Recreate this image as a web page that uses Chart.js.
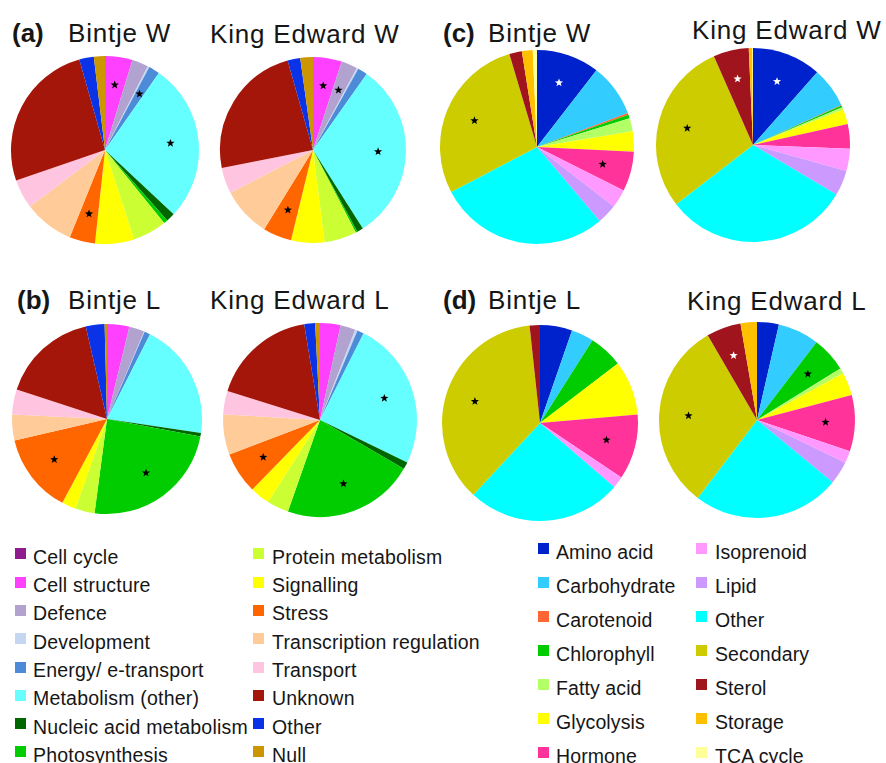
<!DOCTYPE html>
<html>
<head>
<meta charset="utf-8">
<script src="https://cdn.jsdelivr.net/npm/chart.js@4"></script>
<style>
  html, body { margin: 0; padding: 0; background: #fff; }
  body { width: 886px; height: 763px; position: relative; overflow: hidden;
         font-family: "Liberation Sans", Arial, Helvetica, sans-serif; color: #161616; }
  .title { position: absolute; font-size: 26px; line-height: 30px; white-space: nowrap; letter-spacing: 0.8px; }
  .panel { font-weight: bold; letter-spacing: 0; }
  canvas.pie { position: absolute; }
  .sw { position: absolute; width: 11px; height: 11px; }
  .lt { position: absolute; white-space: nowrap; line-height: 22px; }
</style>
</head>
<body>
<script>
// Functional categories of the gene sets in panels (a) and (b)
const funcCategories = [
  "Cell cycle", "Cell structure", "Defence", "Development", "Energy/ e-transport",
  "Metabolism (other)", "Nucleic acid metabolism", "Photosynthesis", "Protein metabolism",
  "Signalling", "Stress", "Transcription regulation", "Transport", "Unknown", "Other", "Null"
];
const funcColors = [
  "#8e1c8e", "#ff40ff", "#b2a2d0", "#c5d6f0", "#4d8bd9",
  "#66ffff", "#006600", "#00cc00", "#ccff33",
  "#ffff00", "#ff6600", "#ffcc99", "#ffc4e0", "#a5160a", "#0a32e6", "#cc9600"
];

// Metabolic pathway classes in panels (c) and (d)
const metCategories = [
  "Amino acid", "Carbohydrate", "Carotenoid", "Chlorophyll", "Fatty acid", "Glycolysis",
  "Hormone", "Isoprenoid", "Lipid", "Other", "Secondary", "Sterol", "Storage", "TCA cycle"
];
const metColors = [
  "#0022cc", "#33ccff", "#ff6633", "#00cc00", "#b3ff66", "#ffff00",
  "#ff3399", "#ff99ff", "#cc99ff", "#00ffff", "#cccc00", "#a0141e", "#ffc000", "#ffff99"
];

// Share of genes per category (%)
const funcBintjeW      = [0, 4.7, 2.8, 0.3, 1.9, 27.2, 1.5, 0.7, 5.8, 6.7, 4.4, 8.6, 5.0, 25.8, 2.5, 1.9];
const funcKingEdwardW  = [0, 5.0, 2.8, 0.3, 1.7, 31.2, 1.1, 0.3, 5.6, 5.8, 5.0, 8.6, 4.5, 23.7, 2.2, 2.2];
const funcBintjeL      = [0, 3.8, 2.6, 0.1, 1.0, 19.9, 0.6, 24.2, 3.3, 2.4, 13.6, 4.4, 4.3, 16.4, 3.2, 0.4];
const funcKingEdwardL  = [0, 3.4, 2.5, 0.4, 1.1, 24.7, 1.2, 21.9, 3.6, 3.3, 6.9, 6.7, 3.9, 17.5, 1.8, 0.8];

const metBintjeW       = [10.5, 8.8, 0.3, 0.6, 2.2, 3.4, 6.6, 3.1, 3.3, 28.5, 28.1, 2.1, 1.8, 0.7];
const metKingEdwardW   = [11.5, 6.7, 0.1, 0.3, 0.4, 2.5, 4.1, 3.7, 4.2, 31.0, 28.8, 5.9, 0.6, 0.1];
const metBintjeL       = [5.3, 3.7, 0, 5.6, 0, 9.0, 10.8, 1.9, 0, 25.6, 36.4, 1.7, 0, 0];
const metKingEdwardL   = [3.6, 6.8, 0, 5.8, 0.9, 3.8, 9.3, 2.0, 3.8, 24.4, 31.3, 5.7, 2.7, 0];

// Significantly enriched categories: [category, star colour]
const sigFuncBintjeW     = [["Cell structure", "#000"], ["Energy/ e-transport", "#000"], ["Metabolism (other)", "#000"], ["Stress", "#000"]];
const sigFuncKingEdwardW = [["Cell structure", "#000"], ["Defence", "#000"], ["Metabolism (other)", "#000"], ["Stress", "#000"]];
const sigFuncBintjeL     = [["Photosynthesis", "#000"], ["Stress", "#000"]];
const sigFuncKingEdwardL = [["Metabolism (other)", "#000"], ["Photosynthesis", "#000"], ["Stress", "#000"]];
const sigMetBintjeW      = [["Amino acid", "#fff"], ["Hormone", "#000"], ["Secondary", "#000"]];
const sigMetKingEdwardW  = [["Amino acid", "#fff"], ["Secondary", "#000"], ["Sterol", "#fff"]];
const sigMetBintjeL      = [["Hormone", "#000"], ["Secondary", "#000"]];
const sigMetKingEdwardL  = [["Chlorophyll", "#000"], ["Hormone", "#000"], ["Secondary", "#000"], ["Sterol", "#fff"]];

// Panel headings
const headings = [
  { text: "(a)", x: 12,  base: 42,  bold: true },
  { text: "Bintje W", x: 68, base: 42 },
  { text: "King Edward W", x: 210, base: 43 },
  { text: "(b)", x: 17,  base: 309, bold: true },
  { text: "Bintje L", x: 68, base: 309 },
  { text: "King Edward L", x: 210, base: 309 },
  { text: "(c)", x: 443, base: 42, bold: true },
  { text: "Bintje W", x: 488, base: 42 },
  { text: "King Edward W", x: 692, base: 38.5 },
  { text: "(d)", x: 443, base: 309, bold: true },
  { text: "Bintje L", x: 488, base: 309 },
  { text: "King Edward L", x: 687, base: 310 }
];

headings.forEach(h => {
  const d = document.createElement("div");
  d.className = "title" + (h.bold ? " panel" : "");
  d.textContent = h.text;
  d.style.left = h.x + "px";
  d.style.top = (h.base - 24) + "px";
  document.body.appendChild(d);
});

// Five-pointed star marker
function drawStar(ctx, x, y, r, color) {
  ctx.save();
  ctx.beginPath();
  for (let i = 0; i < 10; i++) {
    const rad = i % 2 === 0 ? r : r * 0.42;
    const a = -Math.PI / 2 + i * Math.PI / 5;
    const px = x + Math.cos(a) * rad, py = y + Math.sin(a) * rad;
    if (i === 0) ctx.moveTo(px, py); else ctx.lineTo(px, py);
  }
  ctx.closePath();
  ctx.fillStyle = color;
  ctx.fill();
  ctx.restore();
}

const starPlugin = {
  id: "sigStars",
  afterDatasetsDraw(chart, args, opts) {
    const meta = chart.getDatasetMeta(0);
    const labels = chart.data.labels;
    (opts.marks || []).forEach(([name, color]) => {
      const arc = meta.data[labels.indexOf(name)];
      if (!arc) return;
      const mid = (arc.startAngle + arc.endAngle) / 2;
      const rr = arc.outerRadius * 0.7;
      drawStar(chart.ctx, arc.x + Math.cos(mid) * rr, arc.y + Math.sin(mid) * rr, 4.3, color);
    });
  }
};

function makePie(cx, cy, r, labels, colors, values, marks) {
  const size = Math.ceil(2 * r + 6);
  const c = document.createElement("canvas");
  c.className = "pie";
  c.width = size; c.height = size;
  c.style.width = size + "px"; c.style.height = size + "px";
  c.style.left = (cx - size / 2) + "px";
  c.style.top = (cy - size / 2) + "px";
  document.body.appendChild(c);
  new Chart(c, {
    type: "pie",
    data: {
      labels: labels,
      datasets: [{ data: values, backgroundColor: colors, borderWidth: 0 }]
    },
    options: {
      responsive: false,
      animation: false,
      devicePixelRatio: 1,
      radius: r,
      layout: { padding: 0 },
      plugins: {
        legend: { display: false },
        tooltip: { enabled: false },
        sigStars: { marks: marks }
      }
    },
    plugins: [starPlugin]
  });
}

makePie(105, 150, 94, funcCategories, funcColors, funcBintjeW, sigFuncBintjeW);
makePie(313, 150, 93, funcCategories, funcColors, funcKingEdwardW, sigFuncKingEdwardW);
makePie(107, 419, 95, funcCategories, funcColors, funcBintjeL, sigFuncBintjeL);
makePie(320, 420, 97, funcCategories, funcColors, funcKingEdwardL, sigFuncKingEdwardL);
makePie(537, 147, 97, metCategories, metColors, metBintjeW, sigMetBintjeW);
makePie(753, 145, 97, metCategories, metColors, metKingEdwardW, sigMetKingEdwardW);
makePie(540, 423, 98, metCategories, metColors, metBintjeL, sigMetBintjeL);
makePie(757, 420, 98, metCategories, metColors, metKingEdwardL, sigMetKingEdwardL);

// Two-column legends built from the category arrays
function makeLegend(labels, colors, cols, firstBase, step, fontSize, spacing) {
  const perCol = Math.ceil(labels.length / 2);
  labels.forEach((name, i) => {
    const col = cols[Math.floor(i / perCol)];
    const base = firstBase + (i % perCol) * step;
    const sw = document.createElement("div");
    sw.className = "sw";
    sw.style.left = col.sx + "px";
    sw.style.top = (base - 15) + "px";
    sw.style.background = colors[i];
    document.body.appendChild(sw);
    const t = document.createElement("div");
    t.className = "lt";
    t.style.fontSize = fontSize + "px";
    t.style.letterSpacing = spacing + "px";
    t.style.left = col.tx + "px";
    t.style.top = (base - 17.5) + "px";
    t.textContent = name;
    document.body.appendChild(t);
  });
}

makeLegend(funcCategories, funcColors, [{ sx: 15, tx: 33 }, { sx: 253, tx: 272 }], 563.3, 28.3, 19.5, 0.2);
makeLegend(metCategories, metColors, [{ sx: 538, tx: 556 }, { sx: 696, tx: 715 }], 558.3, 34, 19.5, 0.1);
</script>
</body>
</html>
